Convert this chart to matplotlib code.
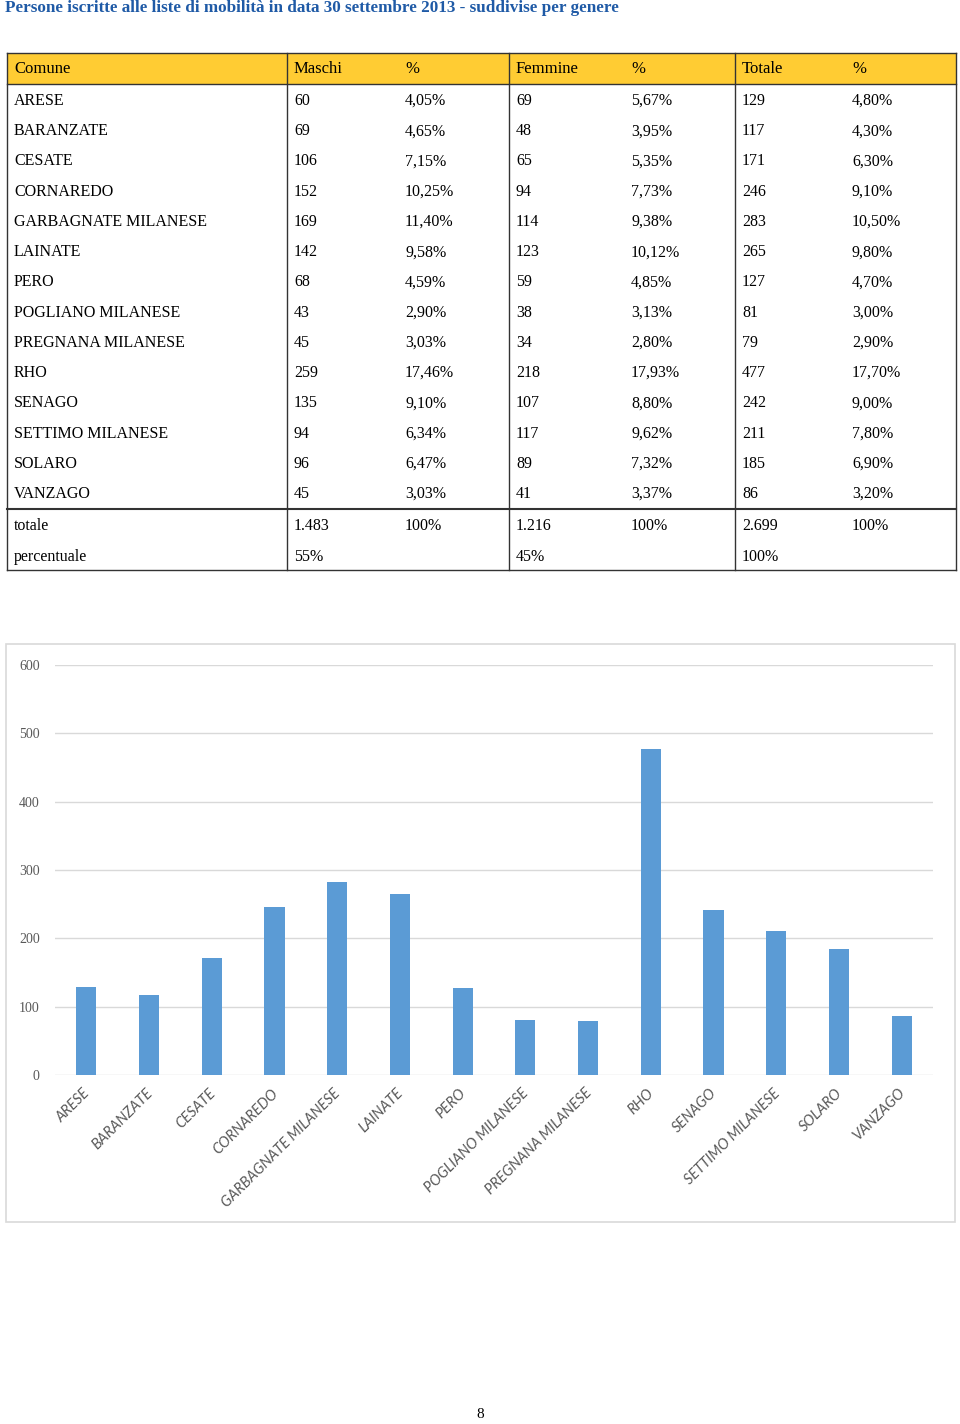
import matplotlib.pyplot as plt
from matplotlib.patches import Rectangle

# dati della tabella
comuni = ["ARESE", "BARANZATE", "CESATE", "CORNAREDO", "GARBAGNATE MILANESE",
          "LAINATE", "PERO", "POGLIANO MILANESE", "PREGNANA MILANESE", "RHO",
          "SENAGO", "SETTIMO MILANESE", "SOLARO", "VANZAGO"]
maschi = [60, 69, 106, 152, 169, 142, 68, 43, 45, 259, 135, 94, 96, 45]
maschi_pct = ["4,05%", "4,65%", "7,15%", "10,25%", "11,40%", "9,58%", "4,59%",
              "2,90%", "3,03%", "17,46%", "9,10%", "6,34%", "6,47%", "3,03%"]
femmine = [69, 48, 65, 94, 114, 123, 59, 38, 34, 218, 107, 117, 89, 41]
femmine_pct = ["5,67%", "3,95%", "5,35%", "7,73%", "9,38%", "10,12%", "4,85%",
               "3,13%", "2,80%", "17,93%", "8,80%", "9,62%", "7,32%", "3,37%"]
totale = [129, 117, 171, 246, 283, 265, 127, 81, 79, 477, 242, 211, 185, 86]
totale_pct = ["4,80%", "4,30%", "6,30%", "9,10%", "10,50%", "9,80%", "4,70%",
              "3,00%", "2,90%", "17,70%", "9,00%", "7,80%", "6,90%", "3,20%"]
intestazioni = ["Comune", "Maschi", "%", "Femmine", "%", "Totale", "%"]
riga_totale = ["totale", "1.483", "100%", "1.216", "100%", "2.699", "100%"]
riga_perc = ["percentuale", "55%", "", "45%", "", "100%", ""]
titolo = "Persone iscritte alle liste di mobilità in data 30 settembre 2013 - suddivise per genere"
yticks = [0, 100, 200, 300, 400, 500, 600]

serif = "Liberation Serif"

fig = plt.figure(figsize=(9.6, 14.24), dpi=100)
bg = fig.add_axes([0, 0, 1, 1])
bg.set_xlim(0, 960)
bg.set_ylim(1424, 0)
bg.axis("off")

bg.text(5, 8, titolo, fontsize=12.3, fontweight="bold", color="#1F5AA6",
        family=serif, va="center", ha="left")

# tabella
col_x = [14, 294, 405, 516, 631, 742, 852]
bordi = [7, 287, 509, 735, 956]
top, head_bot, sep, bottom = 53, 84, 509, 570
bg.add_patch(Rectangle((7, top), 949, head_bot - top, facecolor="#FFCC33",
                       edgecolor="none"))
for x in bordi:
    bg.plot([x, x], [top, bottom], color="#333333", lw=1)
for y in [top, head_bot, bottom]:
    bg.plot([7, 956], [y, y], color="#333333", lw=1)
bg.plot([7, 956], [sep, sep], color="#333333", lw=1.5)

for x, t in zip(col_x, intestazioni):
    bg.text(x, 69, t, fontsize=12, family=serif, va="center", ha="left")

righe = list(zip(comuni, maschi, maschi_pct, femmine, femmine_pct, totale, totale_pct))
for i, r in enumerate(righe):
    y = 101 + i * 30.23
    for x, t in zip(col_x, r):
        bg.text(x, y, str(t), fontsize=11.5, family=serif, va="center", ha="left")
for y, r in [(526, riga_totale), (557, riga_perc)]:
    for x, t in zip(col_x, r):
        bg.text(x, y, t, fontsize=11.5, family=serif, va="center", ha="left")

# riquadro del grafico
bg.add_patch(Rectangle((6, 644), 949, 578, facecolor="white",
                       edgecolor="#D9D9D9", lw=1.2))
bg.text(480, 1414, "8", fontsize=11, family=serif, va="center", ha="center")

ax = fig.add_axes([55 / 960, 1 - 1075 / 1424, 878 / 960, 410 / 1424])
ax.patch.set_alpha(0)
pos = range(len(comuni))
ax.bar(pos, totale, width=0.32, color="#5B9BD5", zorder=3)
ax.set_xlim(-0.5, len(comuni) - 0.5)
ax.set_ylim(0, 600)
ax.set_yticks(yticks)
ax.yaxis.grid(True, color="#D9D9D9", lw=1)
ax.set_axisbelow(True)
for s in ax.spines.values():
    s.set_visible(False)
ax.tick_params(axis="both", length=0)
ax.tick_params(axis="y", pad=11, labelcolor="#595959", labelsize=10)
for lab in ax.get_yticklabels():
    lab.set_family(serif)
ax.set_xticks([p - 0.06 for p in pos])
ax.set_xticklabels(comuni, rotation=45, ha="right", rotation_mode="anchor",
                   fontsize=10.5, color="#595959", family="Lato", style="italic")
ax.tick_params(axis="x", pad=8)

fig.savefig("out.png", dpi=100)
